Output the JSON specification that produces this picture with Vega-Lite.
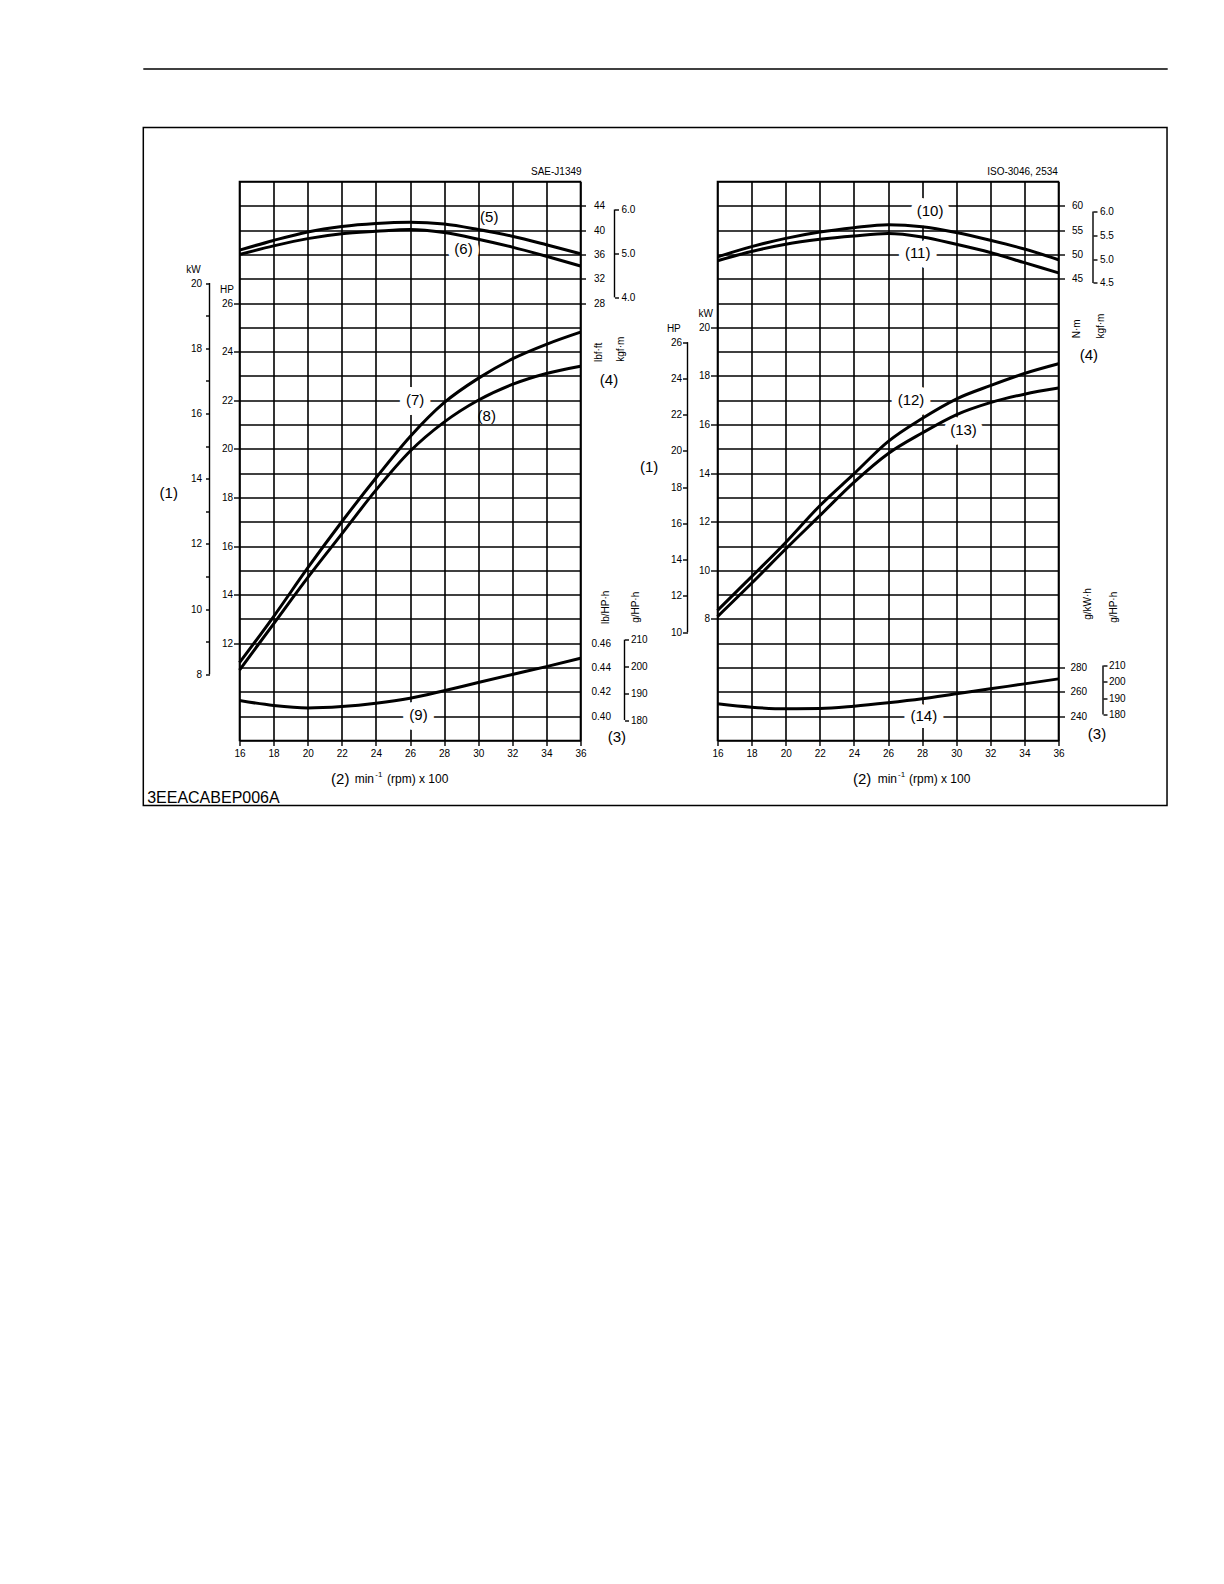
{
  "$schema": "https://vega.github.io/schema/vega-lite/v6.json",
  "background": "white",
  "padding": {"left": 141.5, "top": 67.5, "right": 10, "bottom": 10},
  "config": {
    "view": {"stroke": "#000", "strokeWidth": 1.6},
    "axis": {
      "labelFont": "Liberation Sans", "labelFontSize": 10, "labelColor": "#000",
      "tickColor": "#000", "tickWidth": 1.4, "domain": false, "grid": false,
      "labelFlush": false, "labelOverlap": false, "labelBound": false, "zindex": 0
    },
    "text": {"font": "Liberation Sans", "color": "#000"}
  },
  "datasets": {
    "sae_torque": [
      {"curve": "(5)", "rpm": 16, "lbf_ft": 36.7}, {"curve": "(5)", "rpm": 18, "lbf_ft": 38.3},
      {"curve": "(5)", "rpm": 20, "lbf_ft": 39.7}, {"curve": "(5)", "rpm": 22, "lbf_ft": 40.6},
      {"curve": "(5)", "rpm": 24, "lbf_ft": 41.1}, {"curve": "(5)", "rpm": 26, "lbf_ft": 41.3},
      {"curve": "(5)", "rpm": 28, "lbf_ft": 41.0}, {"curve": "(5)", "rpm": 30, "lbf_ft": 40.1},
      {"curve": "(5)", "rpm": 32, "lbf_ft": 39.0}, {"curve": "(5)", "rpm": 34, "lbf_ft": 37.6},
      {"curve": "(5)", "rpm": 36, "lbf_ft": 36.1},
      {"curve": "(6)", "rpm": 16, "lbf_ft": 36.0}, {"curve": "(6)", "rpm": 18, "lbf_ft": 37.4},
      {"curve": "(6)", "rpm": 20, "lbf_ft": 38.6}, {"curve": "(6)", "rpm": 22, "lbf_ft": 39.4},
      {"curve": "(6)", "rpm": 24, "lbf_ft": 39.8}, {"curve": "(6)", "rpm": 26, "lbf_ft": 40.1},
      {"curve": "(6)", "rpm": 28, "lbf_ft": 39.6}, {"curve": "(6)", "rpm": 30, "lbf_ft": 38.5},
      {"curve": "(6)", "rpm": 32, "lbf_ft": 37.2}, {"curve": "(6)", "rpm": 34, "lbf_ft": 35.7},
      {"curve": "(6)", "rpm": 36, "lbf_ft": 34.1}
    ],
    "sae_power": [
      {"curve": "(7)", "rpm": 16, "hp": 11.2}, {"curve": "(7)", "rpm": 18, "hp": 13.1},
      {"curve": "(7)", "rpm": 20, "hp": 15.1}, {"curve": "(7)", "rpm": 22, "hp": 17.0},
      {"curve": "(7)", "rpm": 24, "hp": 18.8}, {"curve": "(7)", "rpm": 26, "hp": 20.5},
      {"curve": "(7)", "rpm": 28, "hp": 21.9}, {"curve": "(7)", "rpm": 30, "hp": 22.9},
      {"curve": "(7)", "rpm": 32, "hp": 23.7}, {"curve": "(7)", "rpm": 34, "hp": 24.3},
      {"curve": "(7)", "rpm": 36, "hp": 24.8},
      {"curve": "(8)", "rpm": 16, "hp": 10.9}, {"curve": "(8)", "rpm": 18, "hp": 12.8},
      {"curve": "(8)", "rpm": 20, "hp": 14.7}, {"curve": "(8)", "rpm": 22, "hp": 16.5},
      {"curve": "(8)", "rpm": 24, "hp": 18.3}, {"curve": "(8)", "rpm": 26, "hp": 19.9},
      {"curve": "(8)", "rpm": 28, "hp": 21.1}, {"curve": "(8)", "rpm": 30, "hp": 22.0},
      {"curve": "(8)", "rpm": 32, "hp": 22.65}, {"curve": "(8)", "rpm": 34, "hp": 23.1},
      {"curve": "(8)", "rpm": 36, "hp": 23.4}
    ],
    "sae_fuel": [
      {"curve": "(9)", "rpm": 16, "lb_per_hp_h": 0.4129}, {"curve": "(9)", "rpm": 18, "lb_per_hp_h": 0.4088},
      {"curve": "(9)", "rpm": 20, "lb_per_hp_h": 0.4068}, {"curve": "(9)", "rpm": 22, "lb_per_hp_h": 0.4080},
      {"curve": "(9)", "rpm": 24, "lb_per_hp_h": 0.4107}, {"curve": "(9)", "rpm": 26, "lb_per_hp_h": 0.4148},
      {"curve": "(9)", "rpm": 28, "lb_per_hp_h": 0.4210}, {"curve": "(9)", "rpm": 30, "lb_per_hp_h": 0.4277},
      {"curve": "(9)", "rpm": 32, "lb_per_hp_h": 0.4343}, {"curve": "(9)", "rpm": 34, "lb_per_hp_h": 0.4408},
      {"curve": "(9)", "rpm": 36, "lb_per_hp_h": 0.4477}
    ],
    "iso_torque": [
      {"curve": "(10)", "rpm": 16, "n_m": 49.5}, {"curve": "(10)", "rpm": 18, "n_m": 51.6},
      {"curve": "(10)", "rpm": 20, "n_m": 53.3}, {"curve": "(10)", "rpm": 22, "n_m": 54.6},
      {"curve": "(10)", "rpm": 24, "n_m": 55.5}, {"curve": "(10)", "rpm": 26, "n_m": 56.1},
      {"curve": "(10)", "rpm": 28, "n_m": 55.7}, {"curve": "(10)", "rpm": 30, "n_m": 54.5},
      {"curve": "(10)", "rpm": 32, "n_m": 52.9}, {"curve": "(10)", "rpm": 34, "n_m": 51.1},
      {"curve": "(10)", "rpm": 36, "n_m": 48.9},
      {"curve": "(11)", "rpm": 16, "n_m": 48.7}, {"curve": "(11)", "rpm": 18, "n_m": 50.6},
      {"curve": "(11)", "rpm": 20, "n_m": 52.1}, {"curve": "(11)", "rpm": 22, "n_m": 53.1},
      {"curve": "(11)", "rpm": 24, "n_m": 53.8}, {"curve": "(11)", "rpm": 26, "n_m": 54.3},
      {"curve": "(11)", "rpm": 28, "n_m": 53.6}, {"curve": "(11)", "rpm": 30, "n_m": 52.1},
      {"curve": "(11)", "rpm": 32, "n_m": 50.4}, {"curve": "(11)", "rpm": 34, "n_m": 48.3},
      {"curve": "(11)", "rpm": 36, "n_m": 46.2}
    ],
    "iso_power": [
      {"curve": "(12)", "rpm": 16, "kw": 8.35}, {"curve": "(12)", "rpm": 18, "kw": 9.74},
      {"curve": "(12)", "rpm": 20, "kw": 11.15}, {"curve": "(12)", "rpm": 22, "kw": 12.66},
      {"curve": "(12)", "rpm": 24, "kw": 13.97}, {"curve": "(12)", "rpm": 26, "kw": 15.3},
      {"curve": "(12)", "rpm": 28, "kw": 16.25}, {"curve": "(12)", "rpm": 30, "kw": 17.05},
      {"curve": "(12)", "rpm": 32, "kw": 17.6}, {"curve": "(12)", "rpm": 34, "kw": 18.1},
      {"curve": "(12)", "rpm": 36, "kw": 18.5},
      {"curve": "(13)", "rpm": 16, "kw": 8.1}, {"curve": "(13)", "rpm": 18, "kw": 9.47},
      {"curve": "(13)", "rpm": 20, "kw": 10.88}, {"curve": "(13)", "rpm": 22, "kw": 12.25},
      {"curve": "(13)", "rpm": 24, "kw": 13.62}, {"curve": "(13)", "rpm": 26, "kw": 14.8},
      {"curve": "(13)", "rpm": 28, "kw": 15.65}, {"curve": "(13)", "rpm": 30, "kw": 16.4},
      {"curve": "(13)", "rpm": 32, "kw": 16.9}, {"curve": "(13)", "rpm": 34, "kw": 17.25},
      {"curve": "(13)", "rpm": 36, "kw": 17.5}
    ],
    "iso_fuel": [
      {"curve": "(14)", "rpm": 16, "g_per_kw_h": 250.2}, {"curve": "(14)", "rpm": 18, "g_per_kw_h": 247.4},
      {"curve": "(14)", "rpm": 20, "g_per_kw_h": 246.1}, {"curve": "(14)", "rpm": 22, "g_per_kw_h": 246.3},
      {"curve": "(14)", "rpm": 24, "g_per_kw_h": 248.2}, {"curve": "(14)", "rpm": 26, "g_per_kw_h": 251.0},
      {"curve": "(14)", "rpm": 28, "g_per_kw_h": 254.3}, {"curve": "(14)", "rpm": 30, "g_per_kw_h": 258.4},
      {"curve": "(14)", "rpm": 32, "g_per_kw_h": 262.5}, {"curve": "(14)", "rpm": 34, "g_per_kw_h": 266.6},
      {"curve": "(14)", "rpm": 36, "g_per_kw_h": 270.7}
    ],
    "sae_notes": [
      {"text": "SAE-J1349", "kind": "unit", "rpm": 34.58, "g": 23.41},
      {"text": "(5)", "kind": "number", "rpm": 30.65, "g": 21.53},
      {"text": "(6)", "kind": "on_line", "rpm": 29.14, "g": 20.23},
      {"text": "(7)", "kind": "on_line", "rpm": 26.3, "g": 13.99},
      {"text": "(8)", "kind": "number", "rpm": 30.5, "g": 13.36},
      {"text": "(9)", "kind": "on_line", "rpm": 26.5, "g": 1.05},
      {"text": "(1)", "kind": "number", "rpm": 11.85, "g": 10.17},
      {"text": "(4)", "kind": "number", "rpm": 37.67, "g": 14.84},
      {"text": "(3)", "kind": "number", "rpm": 38.13, "g": 0.16},
      {"text": "(2)", "kind": "number", "rpm": 21.91, "g": -1.58},
      {"text": "min", "kind": "title", "rpm": 23.32, "g": -1.58},
      {"text": "-1", "kind": "superscript", "rpm": 24.17, "g": -1.44},
      {"text": "(rpm) x 100", "kind": "title", "rpm": 26.45, "g": -1.58},
      {"text": "kW", "kind": "unit", "rpm": 13.3, "g": 19.34},
      {"text": "HP", "kind": "unit", "rpm": 15.26, "g": 18.54},
      {"text": "lbf·ft", "kind": "unit_rotated", "rpm": 37.11, "g": 15.97},
      {"text": "kgf·m", "kind": "unit_rotated", "rpm": 38.38, "g": 16.1},
      {"text": "lb/HP·h", "kind": "unit_rotated", "rpm": 37.5, "g": 5.48},
      {"text": "g/HP·h", "kind": "unit_rotated", "rpm": 39.26, "g": 5.48},
      {"text": "3EEACABEP006A", "kind": "code", "rpm": 14.47, "g": -2.38}
    ],
    "iso_notes": [
      {"text": "ISO-3046, 2534", "kind": "unit", "rpm": 33.89, "g": 23.41},
      {"text": "(10)", "kind": "on_line", "rpm": 28.47, "g": 21.78},
      {"text": "(11)", "kind": "on_line", "rpm": 27.74, "g": 20.05},
      {"text": "(12)", "kind": "on_line", "rpm": 27.35, "g": 13.99},
      {"text": "(13)", "kind": "on_line", "rpm": 30.43, "g": 12.78},
      {"text": "(14)", "kind": "on_line", "rpm": 28.1, "g": 1.0},
      {"text": "(1)", "kind": "number", "rpm": 11.99, "g": 11.25},
      {"text": "(4)", "kind": "number", "rpm": 37.78, "g": 15.88},
      {"text": "(3)", "kind": "number", "rpm": 38.26, "g": 0.28},
      {"text": "(2)", "kind": "number", "rpm": 24.48, "g": -1.58},
      {"text": "min", "kind": "title", "rpm": 25.96, "g": -1.58},
      {"text": "-1", "kind": "superscript", "rpm": 26.8, "g": -1.44},
      {"text": "(rpm) x 100", "kind": "title", "rpm": 29.03, "g": -1.58},
      {"text": "kW", "kind": "unit", "rpm": 15.31, "g": 17.53},
      {"text": "HP", "kind": "unit", "rpm": 13.44, "g": 16.94},
      {"text": "N·m", "kind": "unit_rotated", "rpm": 37.09, "g": 16.94},
      {"text": "kgf·m", "kind": "unit_rotated", "rpm": 38.49, "g": 17.05},
      {"text": "g/kW·h", "kind": "unit_rotated", "rpm": 37.72, "g": 5.62},
      {"text": "g/HP·h", "kind": "unit_rotated", "rpm": 39.24, "g": 5.48}
    ]
  },
  "hconcat": [
    {
      "width": 341,
      "height": 559,
      "layer": [
        {
          "layer": [
            {
              "data": {"values": [{}]},
              "mark": {"type": "rect", "fillOpacity": 0, "stroke": "#000", "strokeWidth": 1.5},
              "encoding": {
                "x": {"datum": 10.358, "type": "quantitative"}, "x2": {"datum": 70.4},
                "y": {"datum": -2.674, "type": "quantitative"}, "y2": {"datum": 25.222}
              }
            },
            {
              "data": {"values": [{}]},
              "mark": {"type": "rule", "stroke": "#000", "strokeWidth": 1.5},
              "encoding": {
                "x": {"datum": 10.358, "type": "quantitative"}, "x2": {"datum": 70.44},
                "y": {"datum": 27.625, "type": "quantitative"}
              }
            },
            {
              "data": {"name": "sae_notes"},
              "transform": [{"filter": "datum.kind === 'on_line'"}],
              "mark": {"type": "text", "fontSize": 15, "fill": "white", "stroke": "white", "strokeWidth": 14, "strokeJoin": "round", "align": "center", "baseline": "middle"},
              "encoding": {
                "x": {
                  "field": "rpm", "type": "quantitative",
                  "scale": {"domain": [16, 36], "nice": false, "zero": false},
                  "axis": {"values": [16, 18, 20, 22, 24, 26, 28, 30, 32, 34, 36], "tickCount": 100, "format": "d", "grid": true, "gridColor": "#000", "gridWidth": 1.6, "gridOpacity": 1, "tickSize": 5, "labelPadding": 3, "title": null}
                },
                "y": {
                  "field": "g", "type": "quantitative",
                  "scale": {"domain": [0, 23], "nice": false, "zero": false},
                  "axis": {"orient": "left", "values": [0, 1, 2, 3, 4, 5, 6, 7, 8, 9, 10, 11, 12, 13, 14, 15, 16, 17, 18, 19, 20, 21, 22, 23], "tickCount": 100, "grid": true, "gridColor": "#000", "gridWidth": 1.6, "gridOpacity": 1, "labels": false, "ticks": false, "title": null}
                },
                "text": {"field": "text"}
              }
            },
            {
              "data": {"name": "sae_notes"},
              "transform": [{"filter": "datum.kind === 'on_line' || datum.kind === 'number'"}],
              "mark": {"type": "text", "fontSize": 15, "align": "center", "baseline": "middle"},
              "encoding": {"x": {"field": "rpm", "type": "quantitative"}, "y": {"field": "g", "type": "quantitative"}, "text": {"field": "text"}}
            },
            {
              "data": {"name": "sae_notes"},
              "transform": [{"filter": "datum.kind === 'unit'"}],
              "mark": {"type": "text", "fontSize": 10, "align": "center", "baseline": "middle"},
              "encoding": {"x": {"field": "rpm", "type": "quantitative"}, "y": {"field": "g", "type": "quantitative"}, "text": {"field": "text"}}
            },
            {
              "data": {"name": "sae_notes"},
              "transform": [{"filter": "datum.kind === 'unit_rotated'"}],
              "mark": {"type": "text", "fontSize": 10, "angle": 270, "align": "center", "baseline": "middle"},
              "encoding": {"x": {"field": "rpm", "type": "quantitative"}, "y": {"field": "g", "type": "quantitative"}, "text": {"field": "text"}}
            },
            {
              "data": {"name": "sae_notes"},
              "transform": [{"filter": "datum.kind === 'title'"}],
              "mark": {"type": "text", "fontSize": 12, "align": "center", "baseline": "middle"},
              "encoding": {"x": {"field": "rpm", "type": "quantitative"}, "y": {"field": "g", "type": "quantitative"}, "text": {"field": "text"}}
            },
            {
              "data": {"name": "sae_notes"},
              "transform": [{"filter": "datum.kind === 'superscript'"}],
              "mark": {"type": "text", "fontSize": 8, "align": "center", "baseline": "middle"},
              "encoding": {"x": {"field": "rpm", "type": "quantitative"}, "y": {"field": "g", "type": "quantitative"}, "text": {"field": "text"}}
            },
            {
              "data": {"name": "sae_notes"},
              "transform": [{"filter": "datum.kind === 'code'"}],
              "mark": {"type": "text", "fontSize": 16, "align": "center", "baseline": "middle"},
              "encoding": {"x": {"field": "rpm", "type": "quantitative"}, "y": {"field": "g", "type": "quantitative"}, "text": {"field": "text"}}
            }
          ]
        },
        {
          "data": {"name": "sae_torque"},
          "mark": {"type": "line", "interpolate": "monotone", "color": "#000", "strokeWidth": 3},
          "encoding": {
            "x": {"field": "rpm", "type": "quantitative"},
            "y": {
              "field": "lbf_ft", "type": "quantitative",
              "scale": {"domain": [-44, 48], "nice": false, "zero": false},
              "axis": {"orient": "right", "values": [28, 32, 36, 40, 44], "tickSize": 5, "labelPadding": 8, "title": null}
            },
            "detail": {"field": "curve"}
          }
        },
        {
          "data": {"values": [{}]},
          "mark": {"type": "rule", "stroke": "#000", "strokeWidth": 1.4},
          "encoding": {
            "x": {"datum": 37.9941, "type": "quantitative"},
            "y": {
              "datum": 4.0, "type": "quantitative",
              "scale": {"domain": [-6.0832, 6.6362], "nice": false, "zero": false},
              "axis": {"orient": "right", "offset": 34, "values": [4, 5, 6], "format": ".1f", "tickSize": 4, "labelPadding": 2.5, "title": null}
            },
            "y2": {"datum": 6.0}
          }
        },
        {
          "data": {"name": "sae_power"},
          "mark": {"type": "line", "interpolate": "monotone", "color": "#000", "strokeWidth": 3},
          "encoding": {
            "x": {"field": "rpm", "type": "quantitative"},
            "y": {
              "field": "hp", "type": "quantitative",
              "scale": {"domain": [8, 31], "nice": false, "zero": false},
              "axis": {"orient": "left", "values": [12, 14, 16, 18, 20, 22, 24, 26], "tickSize": 6, "labelPadding": 1, "title": null}
            },
            "detail": {"field": "curve"}
          }
        },
        {
          "data": {"values": [{}]},
          "mark": {"type": "rule", "stroke": "#000", "strokeWidth": 1.4},
          "encoding": {
            "x": {"datum": 14.2405, "type": "quantitative"},
            "y": {
              "datum": 8, "type": "quantitative",
              "scale": {"domain": [5.9657, 23.1171], "nice": false, "zero": false},
              "axis": {"orient": "left", "offset": 30, "values": [8, 9, 10, 11, 12, 13, 14, 15, 16, 17, 18, 19, 20], "labelExpr": "datum.value % 2 === 0 ? datum.label : ''", "tickSize": 4, "labelPadding": 4, "title": null}
            },
            "y2": {"datum": 20}
          }
        },
        {
          "data": {"name": "sae_fuel"},
          "mark": {"type": "line", "interpolate": "monotone", "color": "#000", "strokeWidth": 3},
          "encoding": {
            "x": {"field": "rpm", "type": "quantitative"},
            "y": {
              "field": "lb_per_hp_h", "type": "quantitative",
              "scale": {"domain": [0.38, 0.84], "nice": false, "zero": false},
              "axis": {"orient": "right", "values": [0.4, 0.42, 0.44, 0.46], "format": ".2f", "tickSize": 0, "labelPadding": 10.5, "title": null}
            },
            "detail": {"field": "curve"}
          }
        },
        {
          "data": {"values": [{}]},
          "mark": {"type": "rule", "stroke": "#000", "strokeWidth": 1.4},
          "encoding": {
            "x": {"datum": 38.5806, "type": "quantitative"},
            "y": {
              "datum": 180, "type": "quantitative",
              "scale": {"domain": [172.365, 381.017], "nice": false, "zero": false},
              "axis": {"orient": "right", "offset": 44, "values": [180, 190, 200, 210], "tickSize": 4, "labelPadding": 2, "title": null}
            },
            "y2": {"datum": 210}
          }
        }
      ],
      "resolve": {"scale": {"y": "independent"}}
    },
    {
      "width": 341,
      "height": 559,
      "layer": [
        {
          "data": {"name": "iso_notes"},
          "layer": [
            {
              "transform": [{"filter": "datum.kind === 'on_line'"}],
              "mark": {"type": "text", "fontSize": 15, "fill": "white", "stroke": "white", "strokeWidth": 14, "strokeJoin": "round", "align": "center", "baseline": "middle"},
              "encoding": {
                "x": {
                  "field": "rpm", "type": "quantitative",
                  "scale": {"domain": [16, 36], "nice": false, "zero": false},
                  "axis": {"values": [16, 18, 20, 22, 24, 26, 28, 30, 32, 34, 36], "tickCount": 100, "format": "d", "grid": true, "gridColor": "#000", "gridWidth": 1.6, "gridOpacity": 1, "tickSize": 5, "labelPadding": 3, "title": null}
                },
                "y": {
                  "field": "g", "type": "quantitative",
                  "scale": {"domain": [0, 23], "nice": false, "zero": false},
                  "axis": {"orient": "left", "values": [0, 1, 2, 3, 4, 5, 6, 7, 8, 9, 10, 11, 12, 13, 14, 15, 16, 17, 18, 19, 20, 21, 22, 23], "tickCount": 100, "grid": true, "gridColor": "#000", "gridWidth": 1.6, "gridOpacity": 1, "labels": false, "ticks": false, "title": null}
                },
                "text": {"field": "text"}
              }
            },
            {
              "transform": [{"filter": "datum.kind === 'on_line' || datum.kind === 'number'"}],
              "mark": {"type": "text", "fontSize": 15, "align": "center", "baseline": "middle"},
              "encoding": {"x": {"field": "rpm", "type": "quantitative"}, "y": {"field": "g", "type": "quantitative"}, "text": {"field": "text"}}
            },
            {
              "transform": [{"filter": "datum.kind === 'unit'"}],
              "mark": {"type": "text", "fontSize": 10, "align": "center", "baseline": "middle"},
              "encoding": {"x": {"field": "rpm", "type": "quantitative"}, "y": {"field": "g", "type": "quantitative"}, "text": {"field": "text"}}
            },
            {
              "transform": [{"filter": "datum.kind === 'unit_rotated'"}],
              "mark": {"type": "text", "fontSize": 10, "angle": 270, "align": "center", "baseline": "middle"},
              "encoding": {"x": {"field": "rpm", "type": "quantitative"}, "y": {"field": "g", "type": "quantitative"}, "text": {"field": "text"}}
            },
            {
              "transform": [{"filter": "datum.kind === 'title'"}],
              "mark": {"type": "text", "fontSize": 12, "align": "center", "baseline": "middle"},
              "encoding": {"x": {"field": "rpm", "type": "quantitative"}, "y": {"field": "g", "type": "quantitative"}, "text": {"field": "text"}}
            },
            {
              "transform": [{"filter": "datum.kind === 'superscript'"}],
              "mark": {"type": "text", "fontSize": 8, "align": "center", "baseline": "middle"},
              "encoding": {"x": {"field": "rpm", "type": "quantitative"}, "y": {"field": "g", "type": "quantitative"}, "text": {"field": "text"}}
            }
          ]
        },
        {
          "data": {"name": "iso_torque"},
          "mark": {"type": "line", "interpolate": "monotone", "color": "#000", "strokeWidth": 3},
          "encoding": {
            "x": {"field": "rpm", "type": "quantitative"},
            "y": {
              "field": "n_m", "type": "quantitative",
              "scale": {"domain": [-50, 65], "nice": false, "zero": false},
              "axis": {"orient": "right", "values": [45, 50, 55, 60], "tickSize": 6, "labelPadding": 7, "title": null}
            },
            "detail": {"field": "curve"}
          }
        },
        {
          "data": {"values": [{}]},
          "mark": {"type": "rule", "stroke": "#000", "strokeWidth": 1.4},
          "encoding": {
            "x": {"datum": 38.0235, "type": "quantitative"},
            "y": {
              "datum": 4.5, "type": "quantitative",
              "scale": {"domain": [-5.0986, 6.6282], "nice": false, "zero": false},
              "axis": {"orient": "right", "offset": 34.5, "values": [4.5, 5, 5.5, 6], "format": ".1f", "tickSize": 4, "labelPadding": 2.5, "title": null}
            },
            "y2": {"datum": 6.0}
          }
        },
        {
          "data": {"name": "iso_power"},
          "mark": {"type": "line", "interpolate": "monotone", "color": "#000", "strokeWidth": 3},
          "encoding": {
            "x": {"field": "rpm", "type": "quantitative"},
            "y": {
              "field": "kw", "type": "quantitative",
              "scale": {"domain": [3, 26], "nice": false, "zero": false},
              "axis": {"orient": "left", "values": [8, 10, 12, 14, 16, 18, 20], "tickSize": 7, "labelPadding": 1, "title": null}
            },
            "detail": {"field": "curve"}
          }
        },
        {
          "data": {"values": [{}]},
          "mark": {"type": "rule", "stroke": "#000", "strokeWidth": 1.4},
          "encoding": {
            "x": {"datum": 14.2405, "type": "quantitative"},
            "y": {
              "datum": 10, "type": "quantitative",
              "scale": {"domain": [4.023, 34.866], "nice": false, "zero": false},
              "axis": {"orient": "left", "offset": 30, "values": [10, 12, 14, 16, 18, 20, 22, 24, 26], "tickSize": 5, "labelPadding": 1, "title": null}
            },
            "y2": {"datum": 26}
          }
        },
        {
          "data": {"name": "iso_fuel"},
          "mark": {"type": "line", "interpolate": "monotone", "color": "#000", "strokeWidth": 3},
          "encoding": {
            "x": {"field": "rpm", "type": "quantitative"},
            "y": {
              "field": "g_per_kw_h", "type": "quantitative",
              "scale": {"domain": [220, 680], "nice": false, "zero": false},
              "axis": {"orient": "right", "values": [240, 260, 280], "tickSize": 6, "labelPadding": 5.5, "title": null}
            },
            "detail": {"field": "curve"}
          }
        },
        {
          "data": {"values": [{}]},
          "mark": {"type": "rule", "stroke": "#000", "strokeWidth": 1.4},
          "encoding": {
            "x": {"datum": 38.61, "type": "quantitative"},
            "y": {
              "datum": 180, "type": "quantitative",
              "scale": {"domain": [164.054, 507.076], "nice": false, "zero": false},
              "axis": {"orient": "right", "offset": 44.5, "values": [180, 190, 200, 210], "tickSize": 4, "labelPadding": 1.5, "title": null}
            },
            "y2": {"datum": 210}
          }
        }
      ],
      "resolve": {"scale": {"y": "independent"}}
    }
  ],
  "spacing": 137,
  "bounds": "flush"
}
